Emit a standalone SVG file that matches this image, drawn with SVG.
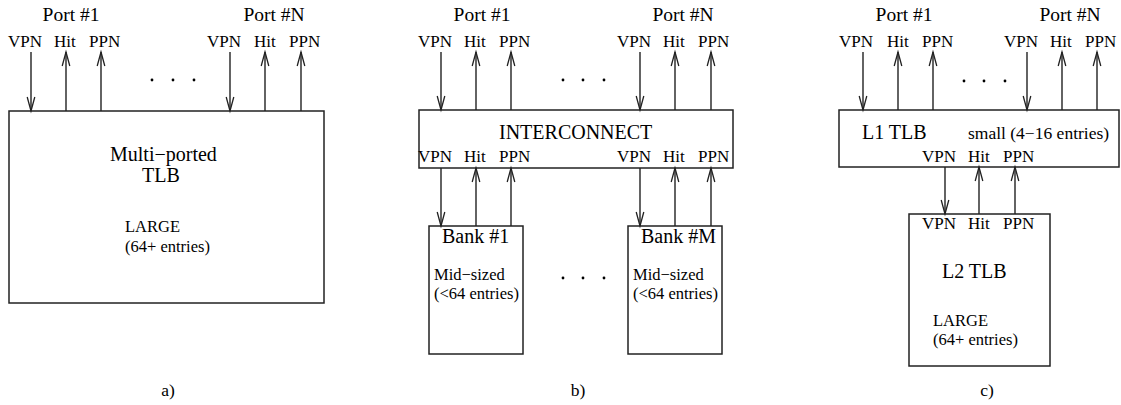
<svg xmlns="http://www.w3.org/2000/svg" width="1121" height="405" viewBox="0 0 1121 405">
<style>
text{font-family:"Liberation Serif","Times New Roman",serif;fill:#000}
.port{font-size:19.5px}
.sig{font-size:17px}
.big{font-size:20px}
.sm{font-size:17.5px}
.sm2{font-size:16.5px}
.box{fill:#fff;stroke:#222;stroke-width:1.5}
.w{stroke:#222;stroke-width:1.4;fill:none;marker-end:url(#ah)}
.dot{fill:#000}
</style>
<defs>
<marker id="ah" markerUnits="userSpaceOnUse" viewBox="-15 -6 17 12" refX="0" refY="0" markerWidth="17" markerHeight="12" orient="auto" overflow="visible">
<path d="M-14,-3.8 L0,0 L-14,3.8" fill="none" stroke="#222" stroke-width="1.3"/>
</marker>
</defs>

<!-- Panel a -->
<g id="a-tlb">
<rect class="box" x="9" y="111" width="315" height="192"/>
<text class="big" x="110" y="161">Multi−ported</text>
<text class="big" x="142" y="182">TLB</text>
<text class="sm2" x="125" y="232">LARGE</text>
<text class="sm2" x="125" y="252">(64+ entries)</text>
</g>
<g id="a-ports">
<text class="port" x="71" y="21" text-anchor="middle">Port #1</text>
<text class="port" x="274" y="21" text-anchor="middle">Port #N</text>
<text class="sig" x="8" y="47">VPN</text>
<text class="sig" x="54" y="47">Hit</text>
<text class="sig" x="89" y="47">PPN</text>
<text class="sig" x="207" y="47">VPN</text>
<text class="sig" x="254" y="47">Hit</text>
<text class="sig" x="289" y="47">PPN</text>
<circle class="dot" cx="152" cy="80" r="1.4"/><circle class="dot" cx="173" cy="80" r="1.4"/><circle class="dot" cx="194" cy="80" r="1.4"/>
<text class="sm" x="168" y="396" text-anchor="middle">a)</text>
</g>

<!-- Panel b -->
<g id="b-interconnect">
<rect class="box" x="419" y="110" width="314" height="58"/>
<text class="big" x="499" y="139">INTERCONNECT</text>
<text class="sig" x="418" y="162">VPN</text>
<text class="sig" x="464" y="162">Hit</text>
<text class="sig" x="499" y="162">PPN</text>
<text class="sig" x="617" y="162">VPN</text>
<text class="sig" x="663" y="162">Hit</text>
<text class="sig" x="698" y="162">PPN</text>
</g>
<g id="b-bank1">
<rect class="box" x="429" y="226" width="94" height="128"/>
<text class="big" x="442" y="243">Bank #1</text>
<text class="sm2" x="434" y="280">Mid−sized</text>
<text class="sm2" x="434" y="298.5">(&lt;64 entries)</text>
</g>
<g id="b-bankM">
<rect class="box" x="628" y="226" width="94" height="128"/>
<text class="big" x="641" y="243">Bank #M</text>
<text class="sm2" x="633" y="280">Mid−sized</text>
<text class="sm2" x="633" y="298.5">(&lt;64 entries)</text>
</g>
<g id="b-ports">
<text class="port" x="482" y="21" text-anchor="middle">Port #1</text>
<text class="port" x="683" y="21" text-anchor="middle">Port #N</text>
<text class="sig" x="418" y="47">VPN</text>
<text class="sig" x="464" y="47">Hit</text>
<text class="sig" x="499" y="47">PPN</text>
<text class="sig" x="617" y="47">VPN</text>
<text class="sig" x="663" y="47">Hit</text>
<text class="sig" x="698" y="47">PPN</text>
<circle class="dot" cx="563" cy="80" r="1.4"/><circle class="dot" cx="583" cy="80" r="1.4"/><circle class="dot" cx="604" cy="80" r="1.4"/>
<circle class="dot" cx="563" cy="278" r="1.4"/><circle class="dot" cx="583" cy="278" r="1.4"/><circle class="dot" cx="604" cy="278" r="1.4"/>
<text class="sm" x="578" y="396" text-anchor="middle">b)</text>
</g>

<!-- Panel c -->
<g id="c-l1">
<rect class="box" x="839" y="110" width="280" height="57"/>
<text class="big" x="862" y="139">L1 TLB</text>
<text class="sm" x="968" y="139">small (4−16 entries)</text>
<text class="sig" x="922" y="162">VPN</text>
<text class="sig" x="968" y="162">Hit</text>
<text class="sig" x="1003" y="162">PPN</text>
</g>
<g id="c-l2">
<rect class="box" x="909" y="214" width="141" height="152"/>
<text class="sig" x="922" y="229">VPN</text>
<text class="sig" x="968" y="229">Hit</text>
<text class="sig" x="1003" y="229">PPN</text>
<text class="big" x="942" y="278">L2 TLB</text>
<text class="sm2" x="933" y="326">LARGE</text>
<text class="sm2" x="933" y="344.5">(64+ entries)</text>
</g>
<g id="c-ports">
<text class="port" x="904" y="21" text-anchor="middle">Port #1</text>
<text class="port" x="1070" y="21" text-anchor="middle">Port #N</text>
<text class="sig" x="839" y="47">VPN</text>
<text class="sig" x="887" y="47">Hit</text>
<text class="sig" x="922" y="47">PPN</text>
<text class="sig" x="1004" y="47">VPN</text>
<text class="sig" x="1050" y="47">Hit</text>
<text class="sig" x="1085" y="47">PPN</text>
<circle class="dot" cx="964" cy="81" r="1.4"/><circle class="dot" cx="984" cy="81" r="1.4"/><circle class="dot" cx="1005" cy="81" r="1.4"/>
<text class="sm" x="987" y="396" text-anchor="middle">c)</text>
</g>

<g id="connectors">
<!-- a -->
<line class="w" x1="31" y1="52" x2="31" y2="111"/>
<line class="w" x1="66" y1="111" x2="66" y2="52"/>
<line class="w" x1="101" y1="111" x2="101" y2="52"/>
<line class="w" x1="230" y1="52" x2="230" y2="111"/>
<line class="w" x1="265" y1="111" x2="265" y2="52"/>
<line class="w" x1="301" y1="111" x2="301" y2="52"/>
<!-- b top -->
<line class="w" x1="441" y1="52" x2="441" y2="110"/>
<line class="w" x1="476" y1="110" x2="476" y2="52"/>
<line class="w" x1="511" y1="110" x2="511" y2="52"/>
<line class="w" x1="640" y1="52" x2="640" y2="110"/>
<line class="w" x1="675" y1="110" x2="675" y2="52"/>
<line class="w" x1="711" y1="110" x2="711" y2="52"/>
<!-- b bottom -->
<line class="w" x1="441" y1="168" x2="441" y2="226"/>
<line class="w" x1="476" y1="226" x2="476" y2="168"/>
<line class="w" x1="511" y1="226" x2="511" y2="168"/>
<line class="w" x1="640" y1="168" x2="640" y2="226"/>
<line class="w" x1="675" y1="226" x2="675" y2="168"/>
<line class="w" x1="711" y1="226" x2="711" y2="168"/>
<!-- c top -->
<line class="w" x1="863" y1="52" x2="863" y2="110"/>
<line class="w" x1="898" y1="110" x2="898" y2="52"/>
<line class="w" x1="933" y1="110" x2="933" y2="52"/>
<line class="w" x1="1027" y1="52" x2="1027" y2="110"/>
<line class="w" x1="1062" y1="110" x2="1062" y2="52"/>
<line class="w" x1="1097" y1="110" x2="1097" y2="52"/>
<!-- c bottom -->
<line class="w" x1="945" y1="167" x2="945" y2="214"/>
<line class="w" x1="979" y1="214" x2="979" y2="167"/>
<line class="w" x1="1015" y1="214" x2="1015" y2="167"/>
</g>
</svg>
